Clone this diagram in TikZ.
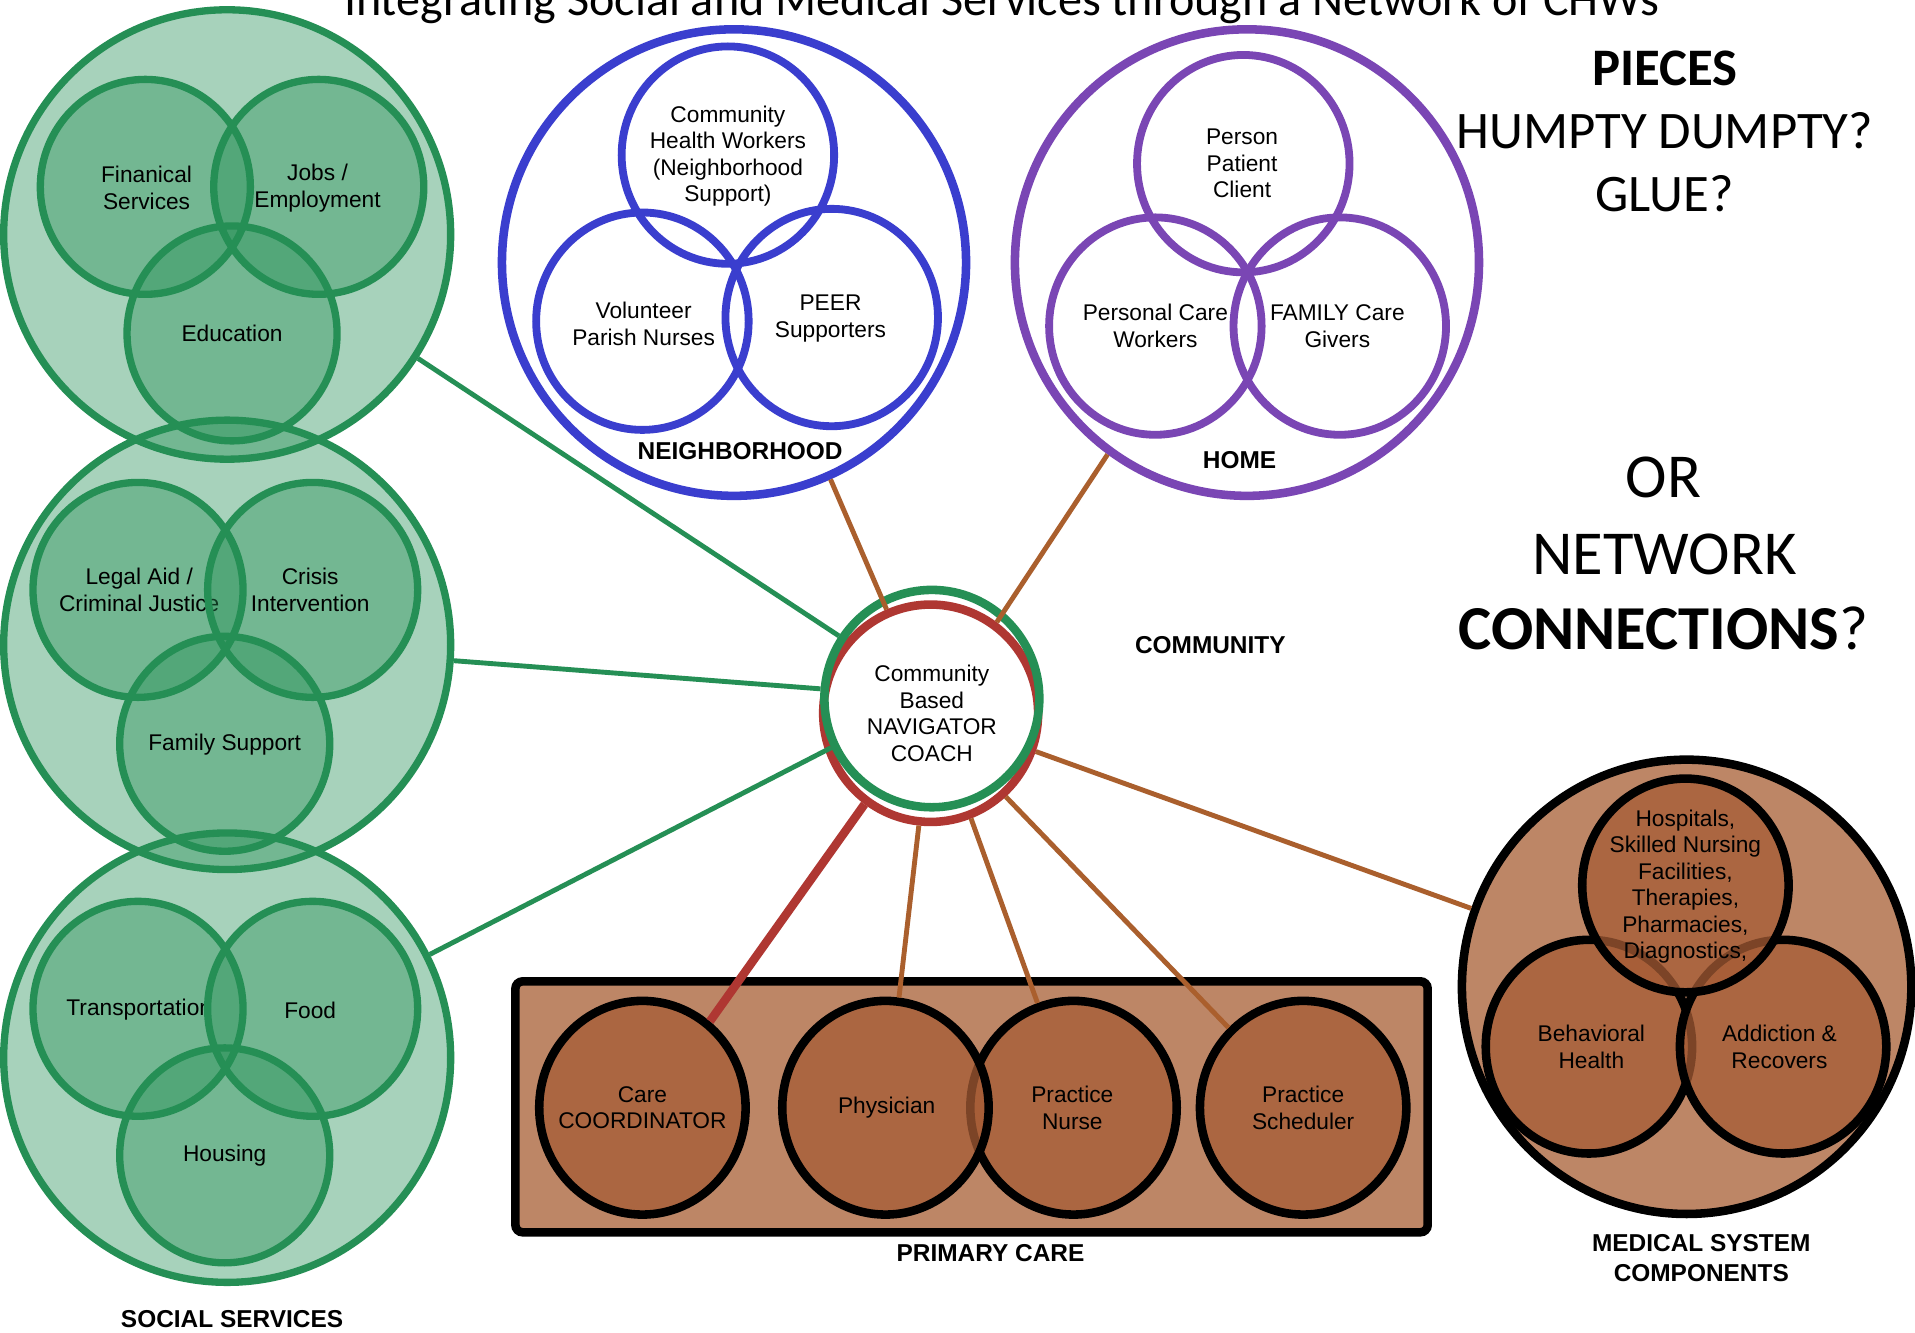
\documentclass[tikz,border=0pt]{standalone}
\usepackage{fontspec}
\setmainfont{Liberation Sans}
\newfontfamily\headfont{Carlito}
\usetikzlibrary{shapes.geometric}

\definecolor{ssgreen}{RGB}{37,143,85}
\definecolor{nbblue}{RGB}{58,62,206}
\definecolor{hmpurple}{RGB}{122,70,180}
\definecolor{linkbrown}{RGB}{170,95,45}
\definecolor{navred}{RGB}{175,55,50}
\definecolor{pcfill}{RGB}{189,134,102}
\definecolor{pcdisc}{RGB}{166,92,53}

\tikzset{
  lbl/.style={font=\fontsize{9.3}{10.85}\selectfont, align=center, inner sep=0pt},
  heading/.style={font=\fontsize{10}{12.5}\selectfont\bfseries, align=center},
  ring/.style={ellipse, inner sep=0pt, minimum width=86pt, minimum height=88pt},
  bigring/.style={ellipse, inner sep=0pt, minimum width=183pt, minimum height=184pt},
  greenouter/.style={bigring, draw=ssgreen, line width=3pt, fill=ssgreen, fill opacity=0.4},
  greenring/.style={ring, draw=ssgreen, line width=3pt, fill=ssgreen, fill opacity=0.4},
  blueouter/.style={bigring, minimum width=190pt, minimum height=191pt, draw=nbblue, line width=3.5pt},
  bluering/.style={ring, minimum width=87pt, minimum height=89pt, draw=nbblue, line width=3.2pt},
  purpleouter/.style={bigring, minimum width=190pt, minimum height=191pt, draw=hmpurple, line width=3.5pt},
  purplering/.style={ring, minimum width=87pt, minimum height=89pt, draw=hmpurple, line width=3.2pt},
  navring/.style={ellipse, inner sep=0pt, minimum width=88pt, minimum height=89pt, line width=3.5pt},
  brownring/.style={ring, minimum width=84.5pt, minimum height=87.5pt, draw=black, line width=3.5pt,
    fill=pcdisc, fill opacity=0.75},
  medouter/.style={bigring, minimum width=184pt, minimum height=186pt, draw=black, line width=3.5pt, fill=pcfill},
  pcframe/.style={rectangle, draw=black, line width=3.5pt, fill=pcfill, rounded corners=3pt,
    minimum width=373.5pt, minimum height=102.75pt, inner sep=0pt},
  glink/.style={draw=ssgreen, line width=2pt},
  blink/.style={draw=linkbrown, line width=2pt},
  rlink/.style={draw=navred, line width=3.5pt},
  bigtext/.style={anchor=base, font=\headfont\fontsize{21.6}{25}\selectfont},
  hugetext/.style={anchor=base, font=\headfont\fontsize{25.6}{30}\selectfont}
}

\begin{document}
\begin{tikzpicture}[x=0.5pt, y=-0.5pt]
\useasboundingbox (0,0) rectangle (1568,1091);
\clip (0,0) rectangle (1568,1091);
\fill[white] (0,0) rectangle (1568,1091);

% title, partly above the page edge
\node[anchor=base, font=\headfont\fontsize{19.7}{22}\selectfont] (title) at (820,12.3)
  {Integrating Social and Medical Services through a Network of CHWs};

% social services clusters
\node[greenouter] (soc1) at (186,192) {};
\node[greenring] (fin) at (119,153) {};
\node[lbl] (fintxt) at (120,154) {Finanical\\Services};
\node[greenring] (jobs) at (261,153) {};
\node[lbl] (jobstxt) at (260,154) {Jobs /\\Employment};
\node[greenring] (edu) at (190,273) {};
\node[lbl] (edutxt) at (190,273) {Education};

\node[greenouter] (soc2) at (186,528) {};
\node[greenring] (legal) at (113,483) {};
\node[lbl] (legaltxt) at (114,483) {Legal Aid /\\Criminal Justice};
\node[greenring] (crisis) at (256,483) {};
\node[lbl] (crisistxt) at (254,483) {Crisis\\Intervention};
\node[greenring] (family) at (184,609) {};
\node[lbl] (familytxt) at (184,610) {Family Support};

\node[greenouter] (soc3) at (186,866) {};
\node[greenring] (trans) at (113,826) {};
\node[lbl] (transtxt) at (114,827) {Transportation};
\node[greenring] (food) at (256,826) {};
\node[lbl] (foodtxt) at (254,827) {Food};
\node[greenring] (housing) at (184,946) {};
\node[lbl] (housingtxt) at (184,946) {Housing};

\node[heading] (soclbl) at (190,1080) {SOCIAL SERVICES};

% neighborhood
\node[blueouter] (nbhd) at (601,215) {};
\node[bluering] (chw) at (596,127) {};
\node[lbl] (chwtxt) at (596,128) {Community\\Health Workers\\(Neighborhood\\Support)};
\node[bluering] (vol) at (526,263) {};
\node[lbl] (voltxt) at (527,265) {Volunteer\\Parish Nurses};
\node[bluering] (peer) at (681,260) {};
\node[lbl] (peertxt) at (680,261) {PEER\\Supporters};
\node[heading] (nbhdlbl) at (606,369) {NEIGHBORHOOD};

% home
\node[purpleouter] (home) at (1021,215) {};
\node[purplering] (person) at (1018,134) {};
\node[lbl] (persontxt) at (1017,134) {Person\\Patient\\Client};
\node[purplering] (pcw) at (946,267) {};
\node[lbl] (pcwtxt) at (946,267) {Personal Care\\Workers};
\node[purplering] (fcg) at (1097,267) {};
\node[lbl] (fcgtxt) at (1095,267) {FAMILY Care\\Givers};
\node[heading] (homelbl) at (1015,377) {HOME};

% navigator
\node[navring, draw=navred, fill=white] (navr) at (762,584) {};
\node[navring, draw=ssgreen] (navg) at (763,572) {};
\node[lbl] (navtxt) at (763,584) {Community\\Based\\NAVIGATOR\\COACH};

\node[heading] (commlbl) at (991,528) {COMMUNITY};

% primary care
\node[pcframe] (pcbox) at (795.5,906.25) {};
\node[brownring] (care) at (526,907) {};
\node[lbl] (caretxt) at (526,907) {Care\\COORDINATOR};
\node[brownring] (nurse) at (879,907) {};
\node[lbl] (nursetxt) at (878,907) {Practice\\Nurse};
\node[brownring] (phys) at (725,907) {};
\node[lbl] (phystxt) at (726,907) {Physician};
\node[brownring] (sched) at (1067,907) {};
\node[lbl] (schedtxt) at (1067,907) {Practice\\Scheduler};
\node[heading] (pclbl) at (811,1026) {PRIMARY CARE};

% medical system
\node[medouter] (med) at (1381,808) {};
\node[brownring] (behav) at (1301,857) {};
\node[lbl] (behavtxt) at (1303,857) {Behavioral\\Health};
\node[brownring] (addict) at (1460,857) {};
\node[lbl] (addicttxt) at (1457,857) {Addiction \&\\Recovers};
\node[brownring] (hosp) at (1380,725) {};
\node[lbl] (hosptxt) at (1380,726) {Hospitals,\\Skilled Nursing\\Facilities,\\Therapies,\\Pharmacies,\\Diagnostics,};
\node[heading] (medlbl) at (1393,1030) {MEDICAL SYSTEM\\COMPONENTS};

% connectors
\draw[glink] (soc1.-33.3) -- (navg.146);
\draw[glink] (soc2.-4.3) -- (navg.175.8);
\draw[glink] (soc3.27) -- (navg.206);
\draw[blink] (nbhd.-66.2) -- (navr.113.2);
\draw[blink] (home.234.8) -- (navr.54.5);
\draw[rlink] (navr.234.6) -- (care.52.8);
\draw[blink] (navr.264) -- (phys.83);
\draw[blink] (navr.291) -- (nurse.109.7);
\draw[blink] (navr.312.7) -- (sched.133.6);
\draw[blink] (navr.-20.6) -- (med.160.3);

% questions on the right
\node[bigtext] (pieces) at (1363,70) {\bfseries PIECES};
\node[bigtext] (humpty) at (1363,121.5) {HUMPTY DUMPTY?};
\node[bigtext] (glue) at (1363,173.3) {GLUE?};
\node[hugetext] (orword) at (1362,407) {OR};
\node[hugetext] (network) at (1363,470) {NETWORK};
\node[hugetext] (connections) at (1362,532) {{\bfseries CONNECTIONS}?};
\end{tikzpicture}
\end{document}
